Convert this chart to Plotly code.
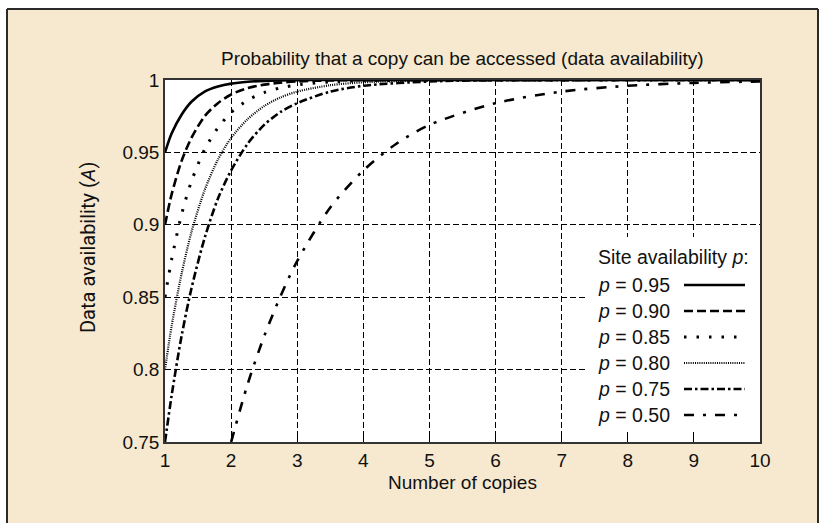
import plotly.graph_objects as go

# ---- data ----
copies = [1, 1.1, 1.25, 1.4, 1.6, 1.8, 2, 2.25, 2.5, 2.75, 3, 3.5, 4, 5, 6, 7, 8, 9, 10]
a_095 = [0.95, 0.963, 0.976, 0.985, 0.992, 0.9955, 0.9975, 0.9988, 0.9994, 0.9997, 0.9999, 1.0, 1.0, 1.0, 1.0, 1.0, 1.0, 1.0, 1.0]
a_090 = [0.90, 0.921, 0.944, 0.960, 0.975, 0.984, 0.990, 0.9944, 0.9968, 0.9982, 0.999, 0.9997, 0.9999, 1.0, 1.0, 1.0, 1.0, 1.0, 1.0]
a_085 = [0.85, 0.876, 0.907, 0.930, 0.952, 0.967, 0.9775, 0.986, 0.9913, 0.9946, 0.9966, 0.9987, 0.9995, 0.9999, 1.0, 1.0, 1.0, 1.0, 1.0]
a_080 = [0.80, 0.830, 0.866, 0.895, 0.924, 0.945, 0.960, 0.973, 0.982, 0.988, 0.992, 0.9964, 0.9984, 0.9997, 0.9999, 1.0, 1.0, 1.0, 1.0]
a_075 = [0.75, 0.782, 0.823, 0.856, 0.891, 0.918, 0.9375, 0.956, 0.969, 0.978, 0.984, 0.992, 0.996, 0.999, 0.9998, 0.9999, 1.0, 1.0, 1.0]
copies_050 = [2, 2.25, 2.5, 2.75, 3, 3.5, 4, 4.5, 5, 6, 7, 8, 9, 10]
a_050 = [0.75, 0.790, 0.823, 0.851, 0.875, 0.912, 0.9375, 0.956, 0.969, 0.984, 0.992, 0.996, 0.998, 0.999]

series_labels = ["0.95", "0.90", "0.85", "0.80", "0.75", "0.50"]
x_ticks = [1, 2, 3, 4, 5, 6, 7, 8, 9, 10]
y_ticks = [0.75, 0.8, 0.85, 0.9, 0.95, 1]
y_tick_text = ["0.75", "0.8", "0.85", "0.9", "0.95", "1"]

# ---- styles ----
styles = [
    dict(width=2.6, dash="solid"),
    dict(width=2.6, dash="9px,4px"),
    dict(width=3.0, dash="2.5px,10px"),
    dict(width=2.2, dash="1px,1.2px"),
    dict(width=2.6, dash="8px,3px,2.5px,3px"),
    dict(width=2.6, dash="10px,9px,3px,9px"),
]
xs = [copies, copies, copies, copies, copies, copies_050]
ys = [a_095, a_090, a_085, a_080, a_075, a_050]

BEIGE = "#F6E9CF"
fig = go.Figure()
for x, y, st, lab in zip(xs, ys, styles, series_labels):
    fig.add_trace(go.Scatter(x=x, y=y, mode="lines", name="p = " + lab,
                             line=dict(color="black", width=st["width"], dash=st["dash"],
                                       shape="spline", smoothing=0.8),
                             showlegend=False, hoverinfo="skip"))

W, H = 825, 523
L, R, T, B = 165, 760, 80, 442
pw, ph = R - L, B - T

def px(x):
    return (x - L) / pw

def py(y):
    return (B - y) / ph

shapes = []
# white strips outside the beige frame
shapes.append(dict(type="rect", xref="paper", yref="paper", x0=px(-5), x1=px(7), y0=py(540), y1=py(-5),
                   fillcolor="white", line=dict(width=0), layer="below"))
shapes.append(dict(type="rect", xref="paper", yref="paper", x0=px(-5), x1=px(830), y0=py(9), y1=py(-5),
                   fillcolor="white", line=dict(width=0), layer="below"))
shapes.append(dict(type="rect", xref="paper", yref="paper", x0=px(818), x1=px(830), y0=py(540), y1=py(-5),
                   fillcolor="white", line=dict(width=0), layer="below"))
# frame lines
shapes.append(dict(type="line", xref="paper", yref="paper", x0=px(7), x1=px(818), y0=py(9), y1=py(9),
                   line=dict(color="#2a2a2a", width=2)))
shapes.append(dict(type="line", xref="paper", yref="paper", x0=px(7), x1=px(7), y0=py(9), y1=py(540),
                   line=dict(color="#2a2a2a", width=2)))
shapes.append(dict(type="line", xref="paper", yref="paper", x0=px(818), x1=px(818), y0=py(9), y1=py(540),
                   line=dict(color="#2a2a2a", width=2)))
# legend box
shapes.append(dict(type="rect", xref="paper", yref="paper", x0=px(588), x1=1.0, y0=py(432), y1=py(237),
                   fillcolor="white", line=dict(width=0), layer="above"))

annotations = []
leg_font = dict(family="Liberation Sans, Arial, sans-serif", size=19.5, color="#111")
annotations.append(dict(x=px(596), y=py(257), xref="paper", yref="paper", xanchor="left", yanchor="middle",
                        text="Site availability <i>p</i>:", showarrow=False, font=leg_font))
ys_leg = [285, 311, 337, 363, 389, 415]
for lab, st, yy in zip(series_labels, styles, ys_leg):
    annotations.append(dict(x=px(596), y=py(yy), xref="paper", yref="paper", xanchor="left", yanchor="middle",
                            text="<i>p</i> = " + lab, showarrow=False, font=leg_font))
    shapes.append(dict(type="line", xref="paper", yref="paper", x0=px(684), x1=px(745), y0=py(yy), y1=py(yy),
                       line=dict(color="black", width=st["width"], dash=st["dash"]), layer="above"))

title_font = dict(family="Liberation Sans, Arial, sans-serif", size=19, color="#111")
annotations.append(dict(x=0.5, y=py(58), xref="paper", yref="paper", xanchor="center", yanchor="middle",
                        text="Probability that a copy can be accessed (data availability)", showarrow=False,
                        font=title_font))
annotations.append(dict(x=0.5, y=py(482), xref="paper", yref="paper", xanchor="center", yanchor="middle",
                        text="Number of copies", showarrow=False, font=title_font))
annotations.append(dict(x=px(88), y=py(247), xref="paper", yref="paper", xanchor="center", yanchor="middle",
                        text="Data availability (<i>A</i>)", showarrow=False, textangle=-90,
                        font=dict(family="Roboto, sans-serif", size=20, color="#111")))

tick_font = dict(family="Liberation Sans, Arial, sans-serif", size=19, color="#111")
grid = dict(showgrid=True, gridcolor="black", griddash="6px,3px", gridwidth=1,
            showline=True, linecolor="#333", linewidth=1.5, mirror=True,
            zeroline=False, tickfont=tick_font, ticks="inside", ticklen=5, tickcolor="black")
fig.update_layout(
    width=W, height=H,
    margin=dict(l=L, r=W - R, t=T, b=H - B, pad=0),
    paper_bgcolor=BEIGE, plot_bgcolor="white",
    shapes=shapes, annotations=annotations,
    xaxis=dict(range=[1, 10], tickvals=x_ticks, **grid),
    yaxis=dict(range=[0.75, 1], tickvals=y_ticks, ticktext=y_tick_text, **grid),
)
fig.write_html("out.html")
